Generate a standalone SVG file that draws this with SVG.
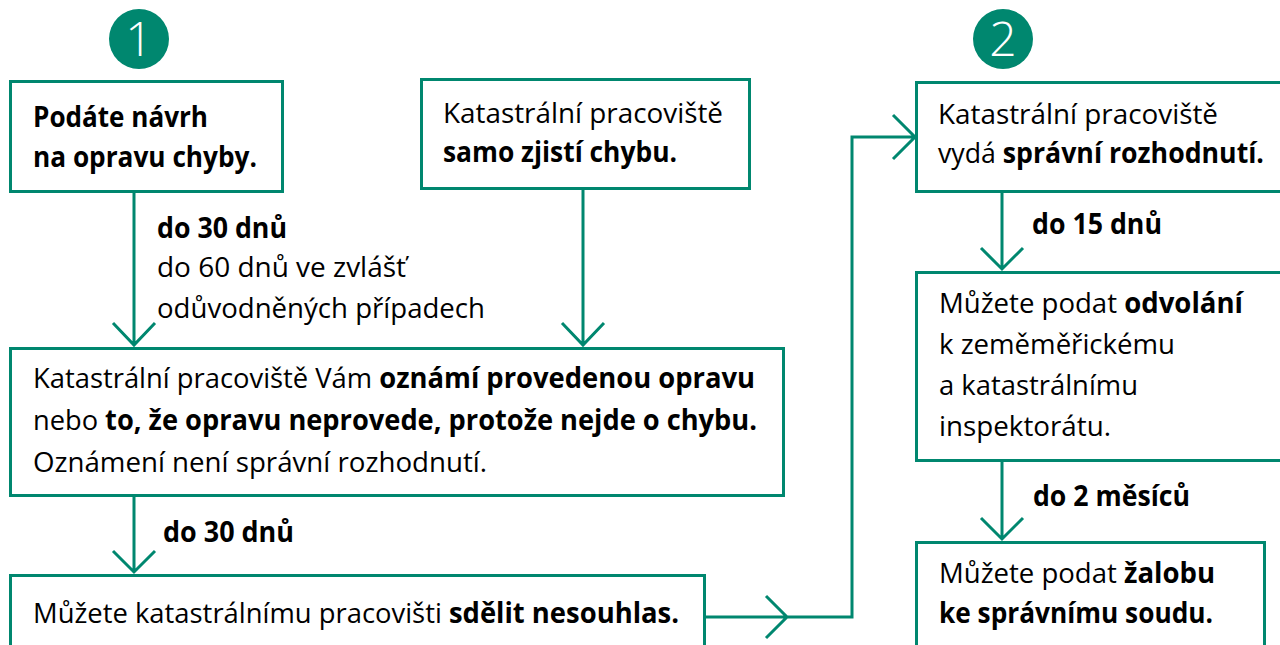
<svg xmlns="http://www.w3.org/2000/svg" width="1280" height="645" viewBox="0 0 1280 645">
<style>
.box{fill:#fff;stroke:#00876f;stroke-width:3}
.ln{fill:none;stroke:#00876f;stroke-width:3}
text{font-family:"Open Sans","Noto Sans",sans-serif;font-size:28px;fill:#000}
.b{font-weight:700}
.num{font-family:"Open Sans","Noto Sans",sans-serif;font-weight:300;font-size:48px;fill:#fff}
.circ{fill:#00876f}
</style>
<rect width="1280" height="645" fill="#fff"/>
<g id="badge1"><circle class="circ" cx="139" cy="39" r="30"/><text class="num" x="139" y="56" text-anchor="middle">1</text></g>
<g id="badge2"><circle class="circ" cx="1003" cy="39" r="30"/><text class="num" x="1003" y="56" text-anchor="middle">2</text></g>
<g id="connectors">
<path class="ln" d="M134 191V345M113 323L134 345L155 323"/>
<path class="ln" d="M583 188V345M562 323L583 345L604 323"/>
<path class="ln" d="M134 495V572M113 551L134 572L155 551"/>
<path class="ln" d="M705 617H852V137H915M766 596L787 617L766 638M893 115L915 137L893 159"/>
<path class="ln" d="M1002 191V269M981 248L1002 269L1023 248"/>
<path class="ln" d="M1002 460V539M981 518L1002 539L1023 518"/>
<text class="b" x="157" y="238" textLength="130" lengthAdjust="spacingAndGlyphs">do 30 dnů</text>
<text x="157" y="277" textLength="249" lengthAdjust="spacingAndGlyphs">do 60 dnů ve zvlášť</text>
<text x="157" y="318" textLength="328" lengthAdjust="spacingAndGlyphs">odůvodněných případech</text>
<text class="b" x="163" y="542" textLength="131" lengthAdjust="spacingAndGlyphs">do 30 dnů</text>
<text class="b" x="1032" y="234" textLength="130" lengthAdjust="spacingAndGlyphs">do 15 dnů</text>
<text class="b" x="1033" y="506" textLength="157" lengthAdjust="spacingAndGlyphs">do 2 měsíců</text>
</g>
<g id="node-navrh">
<rect class="box" x="10.5" y="81.5" width="272" height="110"/>
<text class="b" x="33" y="127" textLength="175" lengthAdjust="spacingAndGlyphs">Podáte návrh</text>
<text class="b" x="33" y="167" textLength="224" lengthAdjust="spacingAndGlyphs">na opravu chyby.</text>
</g>
<g id="node-zjisti">
<rect class="box" x="421.5" y="79.5" width="328" height="109"/>
<text x="443" y="123" textLength="280" lengthAdjust="spacingAndGlyphs">Katastrální pracoviště</text>
<text class="b" x="443" y="162" textLength="234" lengthAdjust="spacingAndGlyphs">samo zjistí chybu.</text>
</g>
<g id="node-rozhodnuti">
<rect class="box" x="916.5" y="82.5" width="368" height="109"/>
<text x="938" y="124" textLength="280" lengthAdjust="spacingAndGlyphs">Katastrální pracoviště</text>
<text x="938" y="163" textLength="326" lengthAdjust="spacingAndGlyphs">vydá <tspan class="b">správní rozhodnutí.</tspan></text>
</g>
<g id="node-oznameni">
<rect class="box" x="10.5" y="348.5" width="773" height="147"/>
<text x="33" y="388" textLength="722" lengthAdjust="spacingAndGlyphs">Katastrální pracoviště Vám <tspan class="b">oznámí provedenou opravu</tspan></text>
<text x="33" y="430" textLength="724" lengthAdjust="spacingAndGlyphs">nebo <tspan class="b">to, že opravu neprovede, protože nejde o chybu.</tspan></text>
<text x="33" y="472" textLength="454" lengthAdjust="spacingAndGlyphs">Oznámení není správní rozhodnutí.</text>
</g>
<g id="node-nesouhlas">
<rect class="box" x="10.5" y="575.5" width="694" height="90"/>
<text x="33" y="623" textLength="646" lengthAdjust="spacingAndGlyphs">Můžete katastrálnímu pracovišti <tspan class="b">sdělit nesouhlas.</tspan></text>
</g>
<g id="node-odvolani">
<rect class="box" x="916.5" y="272.5" width="368" height="188"/>
<text x="939" y="313" textLength="304" lengthAdjust="spacingAndGlyphs">Můžete podat <tspan class="b">odvolání</tspan></text>
<text x="939" y="354" textLength="236" lengthAdjust="spacingAndGlyphs">k zeměměřickému</text>
<text x="939" y="395" textLength="199" lengthAdjust="spacingAndGlyphs">a katastrálnímu</text>
<text x="939" y="436" textLength="172" lengthAdjust="spacingAndGlyphs">inspektorátu.</text>
</g>
<g id="node-zaloba">
<rect class="box" x="916.5" y="542.5" width="348" height="120"/>
<text x="939" y="583" textLength="276" lengthAdjust="spacingAndGlyphs">Můžete podat <tspan class="b">žalobu</tspan></text>
<text class="b" x="939" y="623" textLength="274" lengthAdjust="spacingAndGlyphs">ke správnímu soudu.</text>
</g>
</svg>
